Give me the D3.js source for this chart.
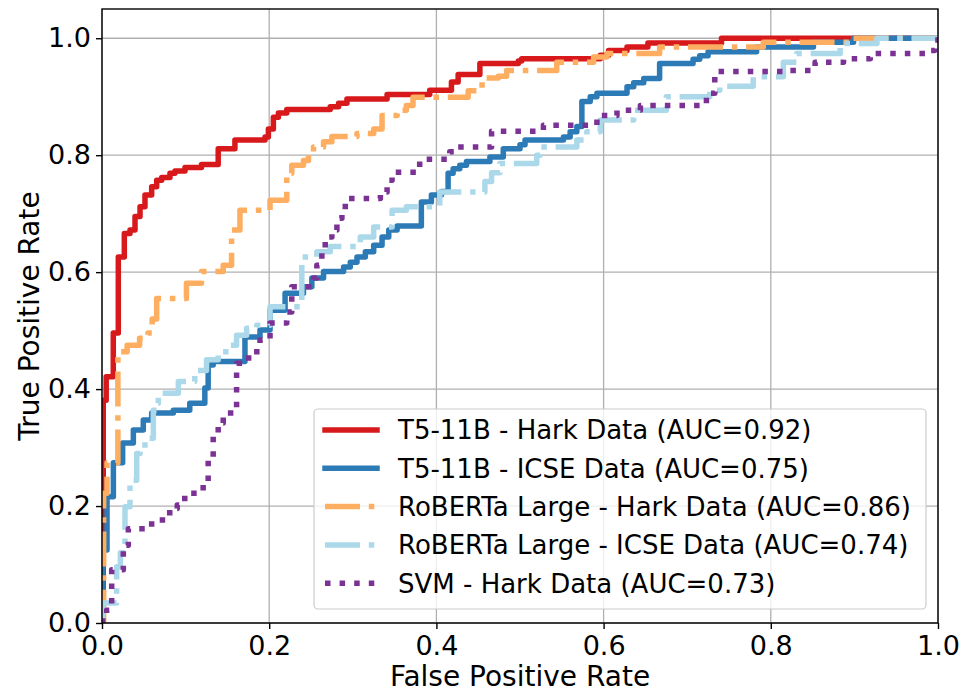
<!DOCTYPE html>
<html>
<head>
<meta charset="utf-8">
<script src="https://cdn.jsdelivr.net/npm/d3@7"></script>
<style>
  html, body { margin: 0; padding: 0; background: #fff; }
  svg { display: block; font-family: "DejaVu Sans", sans-serif; }
</style>
</head>
<body>
<svg id="chart" width="961" height="692"></svg>
<script>
// ---- Data ----
const seriesNames = [
  "T5-11B - Hark Data (AUC=0.92)",
  "T5-11B - ICSE Data (AUC=0.75)",
  "RoBERTa Large - Hark Data (AUC=0.86)",
  "RoBERTa Large - ICSE Data (AUC=0.74)",
  "SVM - Hark Data (AUC=0.73)"
];
const xTicks = [0.0, 0.2, 0.4, 0.6, 0.8, 1.0];
const yTicks = [0.0, 0.2, 0.4, 0.6, 0.8, 1.0];

const t5Hark = [[0,0],[0.0015,0.381],[0.005,0.421],[0.0135,0.496],[0.0195,0.626],[0.0267,0.666],[0.0335,0.672],[0.0395,0.695],[0.0455,0.712],[0.0514,0.732],[0.0594,0.746],[0.0654,0.757],[0.0714,0.762],[0.0813,0.769],[0.0873,0.773],[0.0993,0.779],[0.119,0.784],[0.139,0.811],[0.159,0.826],[0.195,0.831],[0.199,0.845],[0.205,0.865],[0.211,0.872],[0.221,0.878],[0.273,0.883],[0.283,0.889],[0.293,0.896],[0.341,0.904],[0.392,0.911],[0.418,0.925],[0.426,0.938],[0.452,0.957],[0.498,0.961],[0.502,0.965],[0.596,0.971],[0.606,0.979],[0.628,0.985],[0.653,0.992],[0.741,1.0],[1,1]];

const t5Icse = [[0,0],[0.001,0.125],[0.006,0.216],[0.0136,0.274],[0.0247,0.308],[0.0375,0.330],[0.0494,0.347],[0.0594,0.359],[0.0853,0.364],[0.105,0.376],[0.123,0.402],[0.127,0.441],[0.133,0.447],[0.171,0.489],[0.189,0.501],[0.201,0.535],[0.219,0.564],[0.241,0.575],[0.251,0.590],[0.265,0.601],[0.289,0.609],[0.297,0.617],[0.305,0.626],[0.315,0.635],[0.325,0.646],[0.335,0.660],[0.343,0.672],[0.353,0.679],[0.382,0.720],[0.394,0.732],[0.406,0.738],[0.414,0.769],[0.420,0.777],[0.428,0.783],[0.436,0.789],[0.464,0.797],[0.480,0.811],[0.500,0.818],[0.506,0.826],[0.552,0.831],[0.560,0.840],[0.568,0.849],[0.574,0.892],[0.584,0.900],[0.592,0.906],[0.628,0.917],[0.636,0.924],[0.648,0.931],[0.667,0.957],[0.707,0.964],[0.715,0.970],[0.725,0.977],[0.783,0.985],[0.851,0.993],[0.899,1.0],[1,1]];

const robHark = [[0,0],[0.002,0.222],[0.006,0.274],[0.019,0.461],[0.022,0.464],[0.03,0.475],[0.045,0.487],[0.055,0.496],[0.06,0.52],[0.0654,0.555],[0.101,0.581],[0.119,0.601],[0.145,0.612],[0.155,0.672],[0.165,0.706],[0.201,0.723],[0.221,0.769],[0.227,0.783],[0.241,0.791],[0.247,0.802],[0.253,0.814],[0.265,0.823],[0.275,0.832],[0.305,0.837],[0.325,0.845],[0.335,0.868],[0.353,0.877],[0.364,0.885],[0.372,0.899],[0.438,0.91],[0.45,0.92],[0.46,0.932],[0.474,0.935],[0.484,0.945],[0.544,0.959],[0.588,0.968],[0.604,0.974],[0.667,0.985],[0.791,0.993],[0.895,1.0],[1,1]];

const robIcse = [[0,0],[0.0005,0.034],[0.0175,0.096],[0.022,0.12],[0.0275,0.199],[0.0335,0.244],[0.0415,0.290],[0.0455,0.299],[0.0514,0.316],[0.0614,0.364],[0.0654,0.376],[0.0674,0.393],[0.0913,0.413],[0.111,0.432],[0.125,0.450],[0.139,0.464],[0.153,0.475],[0.161,0.492],[0.173,0.504],[0.185,0.509],[0.201,0.541],[0.239,0.626],[0.257,0.635],[0.273,0.644],[0.309,0.660],[0.325,0.677],[0.347,0.706],[0.364,0.712],[0.404,0.737],[0.458,0.755],[0.466,0.770],[0.476,0.786],[0.520,0.800],[0.524,0.814],[0.568,0.826],[0.58,0.84],[0.596,0.860],[0.636,0.877],[0.675,0.900],[0.727,0.911],[0.739,0.918],[0.779,0.934],[0.815,0.959],[0.831,0.974],[0.883,0.991],[0.927,1.0],[1,1]];

const svmHark = [[0,0],[0.001,0.01],[0.0056,0.022],[0.0116,0.091],[0.0255,0.133],[0.0315,0.161],[0.0594,0.176],[0.081,0.196],[0.09,0.202],[0.099,0.222],[0.121,0.242],[0.127,0.279],[0.133,0.325],[0.139,0.342],[0.145,0.359],[0.161,0.444],[0.169,0.453],[0.181,0.464],[0.189,0.484],[0.201,0.513],[0.221,0.532],[0.227,0.575],[0.253,0.590],[0.257,0.612],[0.263,0.635],[0.267,0.660],[0.275,0.672],[0.281,0.692],[0.287,0.706],[0.291,0.726],[0.333,0.737],[0.341,0.757],[0.347,0.771],[0.380,0.793],[0.416,0.806],[0.425,0.814],[0.466,0.841],[0.528,0.851],[0.592,0.868],[0.616,0.877],[0.644,0.885],[0.723,0.906],[0.733,0.937],[0.736,0.943],[0.815,0.945],[0.853,0.959],[0.887,0.965],[0.919,0.974],[0.990,0.979],[0.996,0.997],[1,1]];

const seriesData = [t5Hark, t5Icse, robHark, robIcse, svmHark];

// ---- Styles ----
const colors = ["#d7191c", "#2c7bb6", "#fdae61", "#abd9e9", "#7b3294"];
const dashes = [null, null, "35,8.8,5.5,8.8", "35,8.8,5.5,8.8", "5.5,9.1"];
const LW = 5.5;

// ---- Layout ----
const svg = d3.select("#chart");
const x = d3.scaleLinear().domain([0, 1]).range([102, 938]);
const y = d3.scaleLinear().domain([0, 1.05]).range([623, 9]);

svg.append("defs").append("clipPath").attr("id", "clip")
  .append("rect")
  .attr("x", x(0)).attr("y", y(1.05))
  .attr("width", x(1) - x(0)).attr("height", y(0) - y(1.05));

// grid
const grid = svg.append("g");
grid.selectAll(".gx").data(xTicks).join("line")
  .attr("x1", d => x(d)).attr("x2", d => x(d))
  .attr("y1", y(0)).attr("y2", y(1.05))
  .attr("stroke", "#b0b0b0").attr("stroke-width", 1.3);
grid.selectAll(".gy").data(yTicks).join("line")
  .attr("x1", x(0)).attr("x2", x(1))
  .attr("y1", d => y(d)).attr("y2", d => y(d))
  .attr("stroke", "#b0b0b0").attr("stroke-width", 1.3);

// curves
const line = d3.line().x(d => x(d[0])).y(d => y(d[1])).curve(d3.curveStepAfter);
const curves = svg.append("g").attr("clip-path", "url(#clip)");
seriesData.forEach((data, i) => {
  curves.append("path")
    .datum(data)
    .attr("d", line)
    .attr("fill", "none")
    .attr("stroke", colors[i])
    .attr("stroke-width", LW)
    .attr("stroke-linejoin", "round")
    .attr("stroke-linecap", dashes[i] ? "butt" : "square")
    .attr("stroke-dasharray", dashes[i]);
});

// axes
const xAxis = d3.axisBottom(x).tickValues(xTicks).tickFormat(d3.format(".1f")).tickSize(6).tickPadding(5);
const yAxis = d3.axisLeft(y).tickValues(yTicks).tickFormat(d3.format(".1f")).tickSize(6).tickPadding(5);

const gx = svg.append("g").attr("transform", `translate(0,${y(0)})`).call(xAxis);
const gy = svg.append("g").attr("transform", `translate(${x(0)},0)`).call(yAxis);
[gx, gy].forEach(g => {
  g.select(".domain").remove();
  g.selectAll(".tick line").attr("stroke", "#000").attr("stroke-width", 1.4);
  g.selectAll(".tick text").attr("fill", "#000")
    .style("font-family", "DejaVu Sans").style("font-size", "27px");
});
gx.selectAll(".tick text").attr("dy", "0.78em");

// frame
svg.append("rect")
  .attr("x", x(0)).attr("y", y(1.05))
  .attr("width", x(1) - x(0)).attr("height", y(0) - y(1.05))
  .attr("fill", "none").attr("stroke", "#000").attr("stroke-width", 1.4);

// axis labels
svg.append("text")
  .attr("x", (x(0) + x(1)) / 2).attr("y", 686)
  .attr("text-anchor", "middle")
  .style("font-size", "28px").attr("fill", "#000")
  .text("False Positive Rate");
svg.append("text")
  .attr("transform", `translate(39,${(y(0) + y(1.05)) / 2}) rotate(-90)`)
  .attr("text-anchor", "middle")
  .style("font-size", "28px").attr("fill", "#000")
  .text("True Positive Rate");

// legend
const lg = svg.append("g");
lg.append("rect")
  .attr("x", 314).attr("y", 409).attr("width", 612).attr("height", 200)
  .attr("rx", 4).attr("ry", 4)
  .attr("fill", "#fff").attr("fill-opacity", 0.8)
  .attr("stroke", "#cccccc").attr("stroke-width", 1.2);
seriesNames.forEach((name, i) => {
  const cy = 430 + i * 38.3;
  lg.append("line")
    .attr("x1", dashes[i] ? 325 : 325).attr("x2", dashes[i] ? 380 : 377)
    .attr("y1", cy).attr("y2", cy)
    .attr("stroke", colors[i]).attr("stroke-width", LW)
    .attr("stroke-linecap", dashes[i] ? "butt" : "square")
    .attr("stroke-dasharray", dashes[i]);
  lg.append("text")
    .attr("x", 398).attr("y", cy).attr("dy", "0.36em")
    .style("font-size", "26px").attr("fill", "#000")
    .text(name);
});
</script>
</body>
</html>
